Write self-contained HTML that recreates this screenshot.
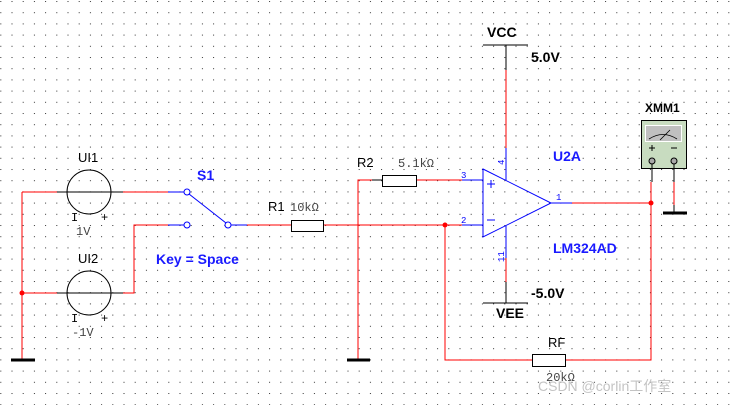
<!DOCTYPE html>
<html><head><meta charset="utf-8"><style>
html,body{margin:0;padding:0;background:#fff;}
svg{display:block;}
.s{font-family:"Liberation Sans",sans-serif;}
.m{font-family:"Liberation Mono",monospace;}
</style></head><body>
<svg width="733" height="405" viewBox="0 0 733 405" xmlns="http://www.w3.org/2000/svg">
<defs><pattern id="g" x="0.3" y="1" width="11.2" height="11.2" patternUnits="userSpaceOnUse"><rect x="0" y="0" width="1" height="1" fill="#333"/></pattern></defs>
<rect width="733" height="405" fill="url(#g)"/>
<g fill="none" stroke-width="1" shape-rendering="crispEdges">
<path d="M22 192V360" stroke="#f00"/>
<path d="M22 192H57M123 192H168" stroke="#f00"/>
<path d="M168 192H184" stroke="#00f"/>
<path d="M22 293H57M123 293H134V225H168" stroke="#f00"/>
<path d="M168 225H184" stroke="#00f"/>
<path d="M57 192H123M57 293H123" stroke="#000"/>
<path d="M231 225H247" stroke="#00f"/>
<path d="M247 225H291M323 225H462" stroke="#f00"/>
<rect x="291.5" y="220.5" width="32" height="11" stroke="#000" fill="#fff"/>
<path d="M358 360V180H372M416 180H462" stroke="#f00"/>
<path d="M372 180H382" stroke="#000"/>
<rect x="382.5" y="175.5" width="34" height="11" stroke="#000" fill="#fff"/>
<path d="M462 180H483M462 225H483" stroke="#00f"/>
<path d="M487 184H495M491 180V188M487 220H495" stroke="#00f"/>
<path d="M506 148V180M506 226V258M551 203H572" stroke="#00f"/>
<path d="M506 70V148M506 258V282M572 203H651" stroke="#f00"/>
<path d="M506 45V70M483 45H528M506 282V303M483 303H528" stroke="#000"/>
<path d="M651 182V360H565M532 360H445V225" stroke="#f00"/>
<rect x="532.5" y="354.5" width="33" height="12" stroke="#000" fill="#fff"/>
<rect x="641.5" y="120.5" width="45" height="48" stroke="#000" fill="#c8dcc0"/>
<rect x="645.5" y="125.5" width="36" height="16" stroke="#fff" fill="#c0c0c0"/>
<path d="M649 148H655M652 145V151M671 148H677" stroke="#000"/>
<path d="M652 164V182M674 164V182M674 205V213" stroke="#000"/>
<path d="M674 182V205" stroke="#f00"/>
</g>
<g fill="none" stroke-width="1">
<circle cx="89" cy="192" r="22" stroke="#000"/>
<circle cx="89" cy="293" r="22" stroke="#000"/>
<circle cx="187" cy="192" r="3" stroke="#00f" fill="#fff"/>
<circle cx="187" cy="225" r="3" stroke="#00f" fill="#fff"/>
<circle cx="228" cy="225" r="3" stroke="#00f" fill="#fff"/>
<path d="M189 194L226 223" stroke="#00f"/>
<path d="M483 169L551 203L483 237Z" stroke="#00f"/>
<path d="M649 139Q663 130 677 139M660 140L670 130" stroke="#000" stroke-width="0.8"/>
<circle cx="652" cy="161" r="3" stroke="#000" fill="#aaa"/>
<circle cx="674" cy="161" r="3" stroke="#000" fill="#aaa"/>
</g>
<g stroke="#000" stroke-width="3">
<path d="M11 360H35M347 360H370M663 213H687"/>
</g>
<g fill="#f00"><circle cx="22" cy="293" r="2.5"/><circle cx="445" cy="225" r="2.5"/><circle cx="651" cy="203" r="2.5"/></g>
<g class="s" font-size="13" fill="#000">
<text x="78" y="162">UI1</text><text x="78" y="263">UI2</text>
<text x="357" y="167">R2</text><text x="268" y="211">R1</text>
<text x="548" y="347">RF</text>
</g>
<g class="m" font-size="12" fill="#444">
<text x="398" y="167">5.1kΩ</text><text x="290" y="211">10kΩ</text><text x="546" y="381">20kΩ</text>
<text x="76" y="235">1V</text><text x="72" y="336">-1V</text>
<text x="71" y="221" fill="#000">I</text><text x="101" y="221" fill="#000">+</text>
<text x="71" y="322" fill="#000">I</text><text x="101" y="322" fill="#000">+</text>
</g>
<g class="s" font-size="14" font-weight="bold" fill="#000">
<text x="487" y="37">VCC</text><text x="531" y="62">5.0V</text>
<text x="531" y="298">-5.0V</text><text x="496" y="318">VEE</text>
<text x="645" y="112" font-size="12">XMM1</text>
</g>
<g class="s" font-size="14" font-weight="bold" fill="#1a1aff">
<text x="197" y="180">S1</text><text x="156" y="264">Key = Space</text>
<text x="553" y="161">U2A</text><text x="553" y="253">LM324AD</text>
</g>
<g class="m" font-size="9" fill="#00f">
<text x="461" y="178">3</text><text x="461" y="223">2</text><text x="556" y="200">1</text>
<text transform="translate(504,165) rotate(-90)">4</text>
<text transform="translate(504,262) rotate(-90)">11</text>
</g>
<text x="538" y="391" font-size="14" fill="#c4c4c4" style='font-family:"Liberation Sans","Noto Sans CJK SC",sans-serif'>CSDN @corlin工作室</text>
</svg>
</body></html>
